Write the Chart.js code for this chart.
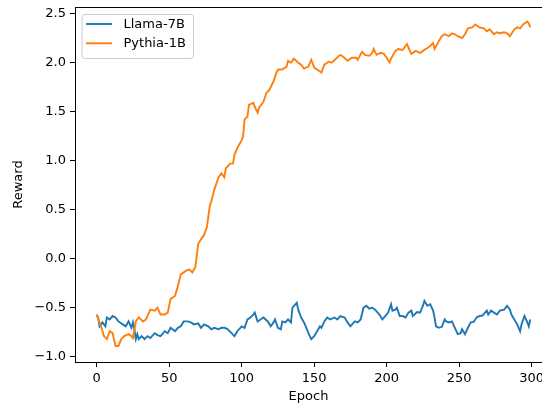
<!DOCTYPE html>
<html>
<head>
<meta charset="utf-8">
<script src="https://cdn.jsdelivr.net/npm/chart.js@4.4.0/dist/chart.umd.min.js"></script>
<style>
  html, body { margin: 0; padding: 0; background: #fff; }
  #rewardChart { display: block; }
</style>
</head>
<body>
<canvas id="rewardChart" width="542" height="404"></canvas>
<script>
const seriesNames = ['Llama-7B', 'Pythia-1B'];

const llamaEpochs = [0, 1, 2, 4, 6, 7, 9, 11, 13, 15, 18, 20, 22, 24, 25, 26, 27, 28, 29, 31,
  33, 35, 37, 40, 42, 44, 47, 49, 51, 54, 56, 58, 60, 63, 65, 67, 70, 72, 74, 77,
  79, 81, 84, 86, 88, 90, 93, 95, 97, 100, 102, 104, 106, 108, 109, 111, 113, 115, 118, 120,
  122, 123, 125, 127, 128, 130, 132, 134, 135, 138, 139, 141, 143, 145, 146, 148, 150, 152, 154, 155,
  157, 159, 161, 164, 166, 168, 171, 173, 175, 178, 180, 182, 184, 186, 188, 190, 192, 195, 197, 199,
  201, 203, 204, 206, 207, 209, 211, 213, 215, 217, 218, 221, 223, 225, 226, 228, 230, 232, 233, 234,
  236, 238, 240, 241, 243, 245, 247, 249, 251, 252, 254, 256, 258, 260, 262, 264, 266, 269, 270, 272,
  274, 276, 278, 281, 283, 285, 286, 288, 290, 292, 293, 295, 297, 298, 299];
const llamaReward = [-0.57, -0.60, -0.69, -0.65, -0.69, -0.60, -0.62, -0.585, -0.60, -0.64, -0.67, -0.69, -0.64, -0.705, -0.65, -0.72, -0.82, -0.77, -0.82, -0.79,
  -0.82, -0.79, -0.81, -0.76, -0.78, -0.79, -0.74, -0.76, -0.705, -0.74, -0.705, -0.69, -0.64, -0.64, -0.65, -0.67, -0.66, -0.705, -0.67, -0.69,
  -0.72, -0.705, -0.72, -0.705, -0.705, -0.715, -0.76, -0.79, -0.74, -0.69, -0.705, -0.62, -0.60, -0.57, -0.55, -0.64, -0.62, -0.60, -0.64, -0.69,
  -0.65, -0.62, -0.705, -0.72, -0.64, -0.65, -0.62, -0.65, -0.50, -0.45, -0.52, -0.60, -0.65, -0.72, -0.76, -0.82, -0.79, -0.74, -0.69, -0.705,
  -0.64, -0.60, -0.62, -0.60, -0.62, -0.585, -0.60, -0.65, -0.69, -0.64, -0.65, -0.62, -0.50, -0.48, -0.51, -0.50, -0.52, -0.57, -0.62, -0.585,
  -0.55, -0.465, -0.53, -0.52, -0.50, -0.585, -0.585, -0.60, -0.55, -0.53, -0.585, -0.545, -0.55, -0.48, -0.43, -0.48, -0.465, -0.53, -0.60, -0.69,
  -0.705, -0.695, -0.62, -0.64, -0.65, -0.64, -0.705, -0.77, -0.76, -0.72, -0.77, -0.705, -0.65, -0.645, -0.60, -0.585, -0.58, -0.53, -0.57, -0.53,
  -0.55, -0.57, -0.53, -0.52, -0.48, -0.52, -0.57, -0.62, -0.67, -0.74, -0.67, -0.585, -0.65, -0.69, -0.62];

const pythiaEpochs = [0, 3, 5, 7, 9, 11, 13, 15, 17, 19, 22, 24, 25, 27, 29, 32, 34, 37, 40, 42,
  44, 47, 49, 51, 54, 56, 58, 62, 64, 66, 67, 68, 70, 72, 74, 76, 78, 79, 81, 84,
  86, 88, 89, 92, 94, 95, 97, 100, 101, 102, 104, 105, 108, 109, 111, 112, 115, 117, 119, 122,
  124, 125, 128, 131, 132, 134, 136, 139, 141, 143, 146, 148, 150, 153, 155, 157, 160, 162, 165, 168,
  170, 173, 176, 179, 180, 183, 185, 188, 190, 191, 193, 196, 198, 200, 202, 203, 206, 208, 211, 214,
  216, 217, 220, 223, 225, 228, 230, 232, 233, 236, 238, 240, 243, 245, 247, 249, 252, 254, 256, 259,
  261, 264, 267, 269, 271, 274, 276, 278, 281, 283, 285, 288, 290, 292, 294, 297, 298, 299];
const pythiaReward = [-0.57, -0.69, -0.79, -0.82, -0.74, -0.76, -0.89, -0.89, -0.82, -0.79, -0.77, -0.79, -0.81, -0.64, -0.60, -0.64, -0.62, -0.52, -0.53, -0.50,
  -0.57, -0.57, -0.55, -0.41, -0.38, -0.28, -0.16, -0.12, -0.11, -0.14, -0.11, -0.09, 0.15, 0.20, 0.24, 0.32, 0.54, 0.58, 0.70, 0.83,
  0.87, 0.83, 0.92, 0.97, 0.97, 1.06, 1.13, 1.21, 1.25, 1.42, 1.45, 1.57, 1.59, 1.55, 1.49, 1.54, 1.60, 1.69, 1.72, 1.81,
  1.90, 1.93, 1.93, 1.96, 2.02, 2.00, 2.04, 2.00, 1.98, 1.94, 1.96, 2.03, 1.95, 1.92, 1.90, 1.98, 2.01, 2.00, 2.04, 2.08,
  2.06, 2.02, 2.05, 2.05, 2.03, 2.11, 2.08, 2.07, 2.10, 2.14, 2.08, 2.10, 2.09, 2.05, 2.00, 2.04, 2.12, 2.14, 2.13, 2.19,
  2.12, 2.09, 2.12, 2.10, 2.12, 2.15, 2.17, 2.20, 2.14, 2.22, 2.27, 2.29, 2.27, 2.30, 2.29, 2.27, 2.25, 2.29, 2.35, 2.36,
  2.39, 2.36, 2.35, 2.32, 2.34, 2.29, 2.31, 2.30, 2.31, 2.30, 2.27, 2.34, 2.36, 2.35, 2.39, 2.42, 2.40, 2.36];

const xTicks = [0, 50, 100, 150, 200, 250, 300];
const yTicks = [-1.0, -0.5, 0.0, 0.5, 1.0, 1.5, 2.0, 2.5];

const FONT = 'DejaVu Sans';
const colors = ['#1f77b4', '#ff7f0e'];

const toPoints = (xs, ys) => xs.map((x, i) => ({ x: x, y: ys[i] }));

// matplotlib-like top spine and legend box
const extras = {
  id: 'extras',
  afterDraw(chart) {
    const ctx = chart.ctx;
    const area = chart.chartArea;
    ctx.save();
    ctx.strokeStyle = '#000';
    ctx.lineWidth = 1;
    ctx.beginPath();
    ctx.moveTo(area.left, area.top + 0.5);
    ctx.lineTo(chart.width, area.top + 0.5);
    ctx.stroke();

    // legend
    const bx = 81.5, by = 14, bw = 111.5, bh = 44, r = 3;
    ctx.beginPath();
    ctx.roundRect(bx + 0.5, by + 0.5, bw, bh, r);
    ctx.fillStyle = 'rgba(255,255,255,0.8)';
    ctx.fill();
    ctx.strokeStyle = '#cccccc';
    ctx.stroke();

    ctx.font = '13px "' + FONT + '"';
    ctx.textBaseline = 'middle';
    ctx.fillStyle = '#000';
    chart.data.datasets.forEach((ds, i) => {
      const cy = 24 + i * 19.3;
      ctx.strokeStyle = ds.borderColor;
      ctx.lineWidth = 1.9;
      ctx.beginPath();
      ctx.moveTo(86, cy);
      ctx.lineTo(112, cy);
      ctx.stroke();
      ctx.fillText(ds.label, 123.5, cy + 0.5);
    });
    ctx.restore();
  }
};

const config = {
  type: 'line',
  data: {
    datasets: [
      {
        label: seriesNames[0],
        data: toPoints(llamaEpochs, llamaReward),
        borderColor: colors[0],
        backgroundColor: colors[0],
        borderWidth: 1.9,
        pointRadius: 0,
        tension: 0,
        order: 2
      },
      {
        label: seriesNames[1],
        data: toPoints(pythiaEpochs, pythiaReward),
        borderColor: colors[1],
        backgroundColor: colors[1],
        borderWidth: 1.9,
        pointRadius: 0,
        tension: 0,
        order: 1
      }
    ]
  },
  options: {
    responsive: false,
    animation: false,
    layout: { padding: { top: 7, left: 0, right: 0, bottom: 0 } },
    plugins: {
      legend: { display: false },
      tooltip: { enabled: false }
    },
    scales: {
      x: {
        type: 'linear',
        min: -14.95,
        max: 307.1,
        afterBuildTicks: (scale) => { scale.ticks = xTicks.map(v => ({ value: v })); },
        afterFit: (scale) => {
          scale.height = 42;
          scale.paddingLeft = 0;
          scale.paddingRight = 0;
        },
        grid: { display: true, drawOnChartArea: false, tickLength: 5, tickColor: '#000' },
        border: { display: true, color: '#000', width: 1 },
        ticks: {
          color: '#000',
          font: { family: FONT, size: 13 },
          padding: 4,
          maxRotation: 0,
          autoSkip: false,
          callback: (v) => String(v)
        },
        title: {
          display: true,
          text: 'Epoch',
          color: '#000',
          font: { family: FONT, size: 13 },
          padding: { top: 0, bottom: 0 }
        }
      },
      y: {
        type: 'linear',
        min: -1.054,
        max: 2.568,
        afterBuildTicks: (scale) => { scale.ticks = yTicks.map(v => ({ value: v })); },
        afterFit: (scale) => {
          scale.width = 75;
          scale.paddingTop = 0;
          scale.paddingBottom = 0;
        },
        grid: { display: true, drawOnChartArea: false, tickLength: 5, tickColor: '#000' },
        border: { display: true, color: '#000', width: 1 },
        ticks: {
          color: '#000',
          font: { family: FONT, size: 13 },
          padding: 4,
          autoSkip: false,
          callback: (v) => (v < 0 ? '\u2212' : '') + Math.abs(v).toFixed(1)
        },
        title: {
          display: true,
          text: 'Reward',
          color: '#000',
          font: { family: FONT, size: 13 },
          padding: { top: 11, bottom: 0 }
        }
      }
    }
  },
  plugins: [extras]
};

const rewardChart = new Chart(document.getElementById('rewardChart'), config);
</script>
</body>
</html>
